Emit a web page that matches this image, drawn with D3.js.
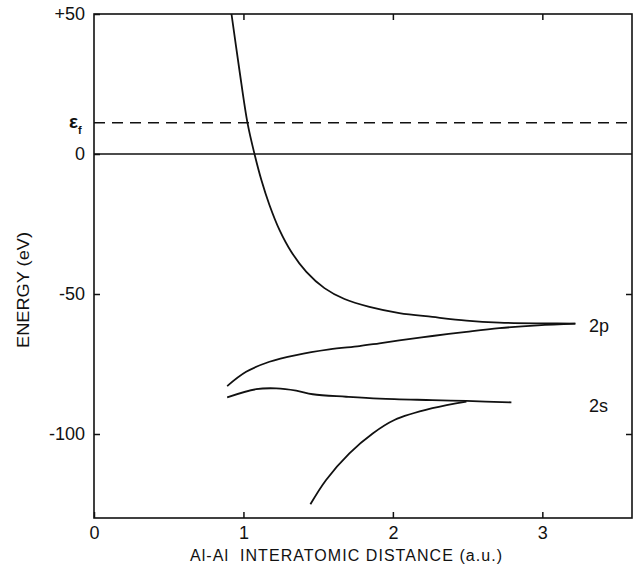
<!DOCTYPE html>
<html>
<head>
<meta charset="utf-8">
<script src="https://cdn.jsdelivr.net/npm/d3@7"></script>
<style>
  html, body { margin: 0; padding: 0; background: #fff; }
  svg { display: block; }
  text { font-family: "Liberation Sans", Arial, sans-serif; fill: #111; }
</style>
</head>
<body>
<svg id="chart" width="638" height="567"></svg>
<script>
// ---- data (x in a.u., energy in eV) ----
const xTicks = [0, 1, 2, 3];
const yTicks = [-100, -50, 0, 50];
const yTickLabels = ["-100", "-50", "0", "+50"];
const fermiLevel = 11.2;

// 2p steep branch (rising to +50)
const p2UpperX = [0.920, 0.973, 1.027, 1.074, 1.120, 1.174, 1.241, 1.321, 1.421, 1.542, 1.676, 1.843, 2.043, 2.264, 2.492, 2.712, 3.027, 3.221];
const p2UpperY = [50, 30.0, 11.1, 0, -9.3, -18.2, -27.1, -35.0, -42.1, -47.9, -51.8, -54.6, -56.8, -58.2, -59.5, -60.2, -60.5, -60.6];
// 2p lower branch
const p2LowerX = [0.891, 1.018, 1.174, 1.353, 1.575, 1.776, 1.910, 2.043, 2.264, 2.492, 2.712, 2.970, 3.221];
const p2LowerY = [-82.9, -77.8, -74.2, -71.8, -69.8, -68.6, -67.6, -66.6, -65.0, -63.5, -62.2, -61.2, -60.6];
// 2s upper branch
const s2UpperX = [0.891, 1.085, 1.219, 1.353, 1.464, 1.687, 1.910, 2.264, 2.492, 2.793];
const s2UpperY = [-86.9, -84.0, -83.7, -84.5, -85.8, -86.7, -87.4, -87.9, -88.2, -88.7];
// 2s lower branch
const s2LowerX = [1.448, 1.553, 1.709, 1.865, 2.010, 2.264, 2.492];
const s2LowerY = [-125.1, -116.4, -106.9, -99.8, -95.0, -90.8, -88.4];

const levelLabels = ["2p", "2s"];
const levelLabelY = [-61.5, -90];

// ---- layout ----
const svg = d3.select("#chart");
const L = 94, R = 632, T = 14, B = 518;
const x = d3.scaleLinear().domain([0, 3.6]).range([L, R]);
const y = d3.scaleLinear().domain([-130, 50]).range([B, T]);

const zip = (xs, ys) => xs.map((v, i) => [v, ys[i]]);
const series = [zip(p2UpperX, p2UpperY), zip(p2LowerX, p2LowerY), zip(s2UpperX, s2UpperY), zip(s2LowerX, s2LowerY)];

// axes (inward ticks)
const gB = svg.append("g").attr("transform", `translate(0,${B})`)
  .call(d3.axisBottom(x).tickValues(xTicks).tickSize(-6).tickPadding(8).tickFormat(d3.format("d")));
const gT = svg.append("g").attr("transform", `translate(0,${T})`)
  .call(d3.axisTop(x).tickValues(xTicks.slice(1)).tickSize(-6).tickFormat(""));
const gL = svg.append("g").attr("transform", `translate(${L},0)`)
  .call(d3.axisLeft(y).tickValues(yTicks).tickSize(-6).tickPadding(9).tickFormat((d, i) => yTickLabels[i]));
const gR = svg.append("g").attr("transform", `translate(${R},0)`)
  .call(d3.axisRight(y).tickValues(yTicks.slice(0, 2)).tickSize(-6).tickFormat(""));
[gB, gT, gL, gR].forEach(g => {
  g.select(".domain").remove();
  g.selectAll(".tick line").attr("stroke", "#111").attr("stroke-width", 1.5);
  g.selectAll(".tick text").attr("font-size", 18).attr("fill", "#111")
    .style("font-family", "'Liberation Sans', Arial, sans-serif");
});

// frame
svg.append("rect").attr("x", L).attr("y", T).attr("width", R - L).attr("height", B - T)
  .attr("fill", "none").attr("stroke", "#111").attr("stroke-width", 1.6);

// zero line and Fermi level
svg.append("line").attr("x1", L).attr("x2", R).attr("y1", y(0)).attr("y2", y(0))
  .attr("stroke", "#111").attr("stroke-width", 1.5);
svg.append("line").attr("x1", L).attr("x2", R).attr("y1", y(fermiLevel)).attr("y2", y(fermiLevel))
  .attr("stroke", "#111").attr("stroke-width", 1.5).attr("stroke-dasharray", "11,7");

// Fermi label
const ef = svg.append("text").attr("x", 69).attr("y", y(fermiLevel) + 5).attr("font-size", 19).attr("font-weight", "bold");
ef.append("tspan").text("ε");
ef.append("tspan").attr("font-size", 11).attr("dy", 6).text("f");

// curves
const line = d3.line().x(d => x(d[0])).y(d => y(d[1])).curve(d3.curveCatmullRom.alpha(0.5));
svg.append("g").selectAll("path").data(series).join("path")
  .attr("d", line).attr("fill", "none").attr("stroke", "#111").attr("stroke-width", 1.8);

// level labels
svg.append("g").selectAll("text").data(levelLabels).join("text")
  .attr("x", 589).attr("y", (d, i) => y(levelLabelY[i]) + 6).attr("font-size", 18).text(d => d);

// axis titles
svg.append("text").attr("transform", `translate(29,290) rotate(-90)`).attr("text-anchor", "middle")
  .attr("font-size", 17).attr("textLength", 116).attr("lengthAdjust", "spacingAndGlyphs").text("ENERGY (eV)");
svg.append("text").attr("x", 346).attr("y", 561).attr("text-anchor", "middle")
  .attr("font-size", 16).attr("textLength", 312).attr("lengthAdjust", "spacing")
  .attr("xml:space", "preserve").text("Al-Al  INTERATOMIC DISTANCE (a.u.)");
</script>
</body>
</html>
